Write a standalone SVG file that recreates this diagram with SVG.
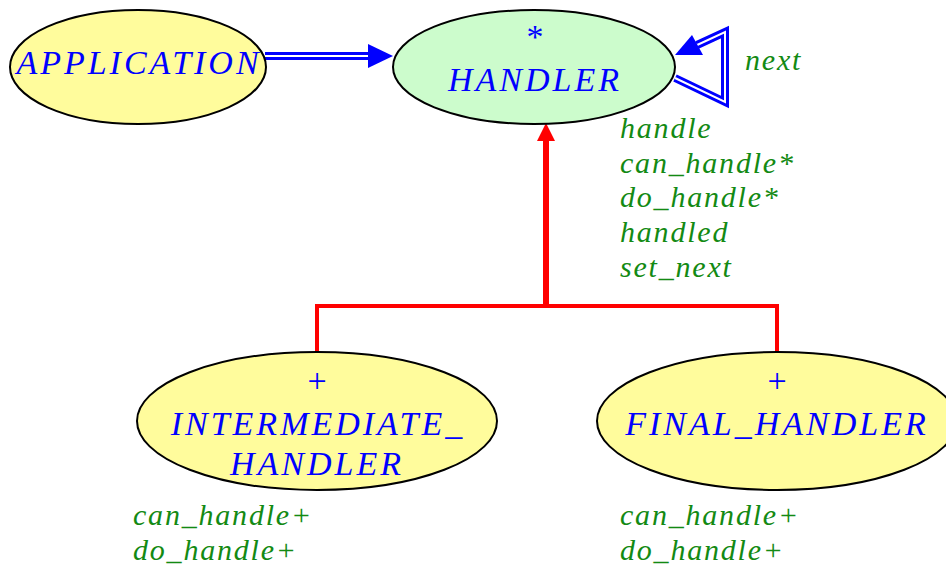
<svg xmlns="http://www.w3.org/2000/svg" width="946" height="567" viewBox="0 0 946 567">
<style>
.yel{fill:#FFFC9C;stroke:#000;stroke-width:2}
.grn{fill:#CCFCCC;stroke:#000;stroke-width:2}
.cls{font-family:"Liberation Serif",serif;font-style:italic;font-size:34px;letter-spacing:3px;fill:#0000FF;text-anchor:middle}
.mark{font-family:"Liberation Serif",serif;font-size:34px;fill:#0000FF;text-anchor:middle}
.feat{font-family:"Liberation Serif",serif;font-style:italic;font-size:30px;letter-spacing:1.8px;fill:#138A13}
.dbl{fill:none;stroke:#0000FF;stroke-width:8}
.dblin{fill:none;stroke:#FFFFFF;stroke-width:2}
.inh{fill:none;stroke:#FF0000}
</style>
<g id="connectors">
  <line class="dbl" x1="265" y1="56" x2="370" y2="56"/>
  <line class="dblin" x1="265" y1="56" x2="372" y2="56"/>
  <polygon points="393,56 368,44 368,68" fill="#0000FF"/>
  <polyline class="dbl" points="675,78 725,102 725,32 697,45"/>
  <polyline class="dblin" points="675,78 725,102 725,32 695,46"/>
  <polygon points="675,55 692,35 703,55" fill="#0000FF"/>
  <line class="inh" x1="546" y1="138" x2="546" y2="308" stroke-width="6"/>
  <polygon points="546,123 537,141 555,141" fill="#FF0000"/>
  <polyline class="inh" points="317,352 317,306 777,306 777,352" stroke-width="4"/>
</g>
<g id="application">
  <ellipse class="yel" cx="138" cy="67" rx="128" ry="57"/>
  <text class="cls" x="139" y="74">APPLICATION</text>
</g>
<g id="handler">
  <ellipse class="grn" cx="534" cy="67" rx="141" ry="57"/>
  <text class="mark" x="535" y="48">*</text>
  <text class="cls" x="535" y="91">HANDLER</text>
  <text class="feat" x="745" y="70">next</text>
  <text class="feat" x="620" y="138">handle</text>
  <text class="feat" x="620" y="173">can_handle*</text>
  <text class="feat" x="620" y="207">do_handle*</text>
  <text class="feat" x="620" y="242">handled</text>
  <text class="feat" x="620" y="277">set_next</text>
</g>
<g id="intermediate_handler">
  <ellipse class="yel" cx="317" cy="421" rx="180" ry="69"/>
  <text class="mark" x="317" y="392">+</text>
  <text class="cls" x="318" y="435">INTERMEDIATE_</text>
  <text class="cls" x="317" y="475">HANDLER</text>
  <text class="feat" x="133" y="525">can_handle+</text>
  <text class="feat" x="133" y="560">do_handle+</text>
</g>
<g id="final_handler">
  <ellipse class="yel" cx="777" cy="421" rx="180" ry="69"/>
  <text class="mark" x="777" y="392">+</text>
  <text class="cls" x="777" y="435">FINAL_HANDLER</text>
  <text class="feat" x="620" y="525">can_handle+</text>
  <text class="feat" x="620" y="560">do_handle+</text>
</g>
</svg>
